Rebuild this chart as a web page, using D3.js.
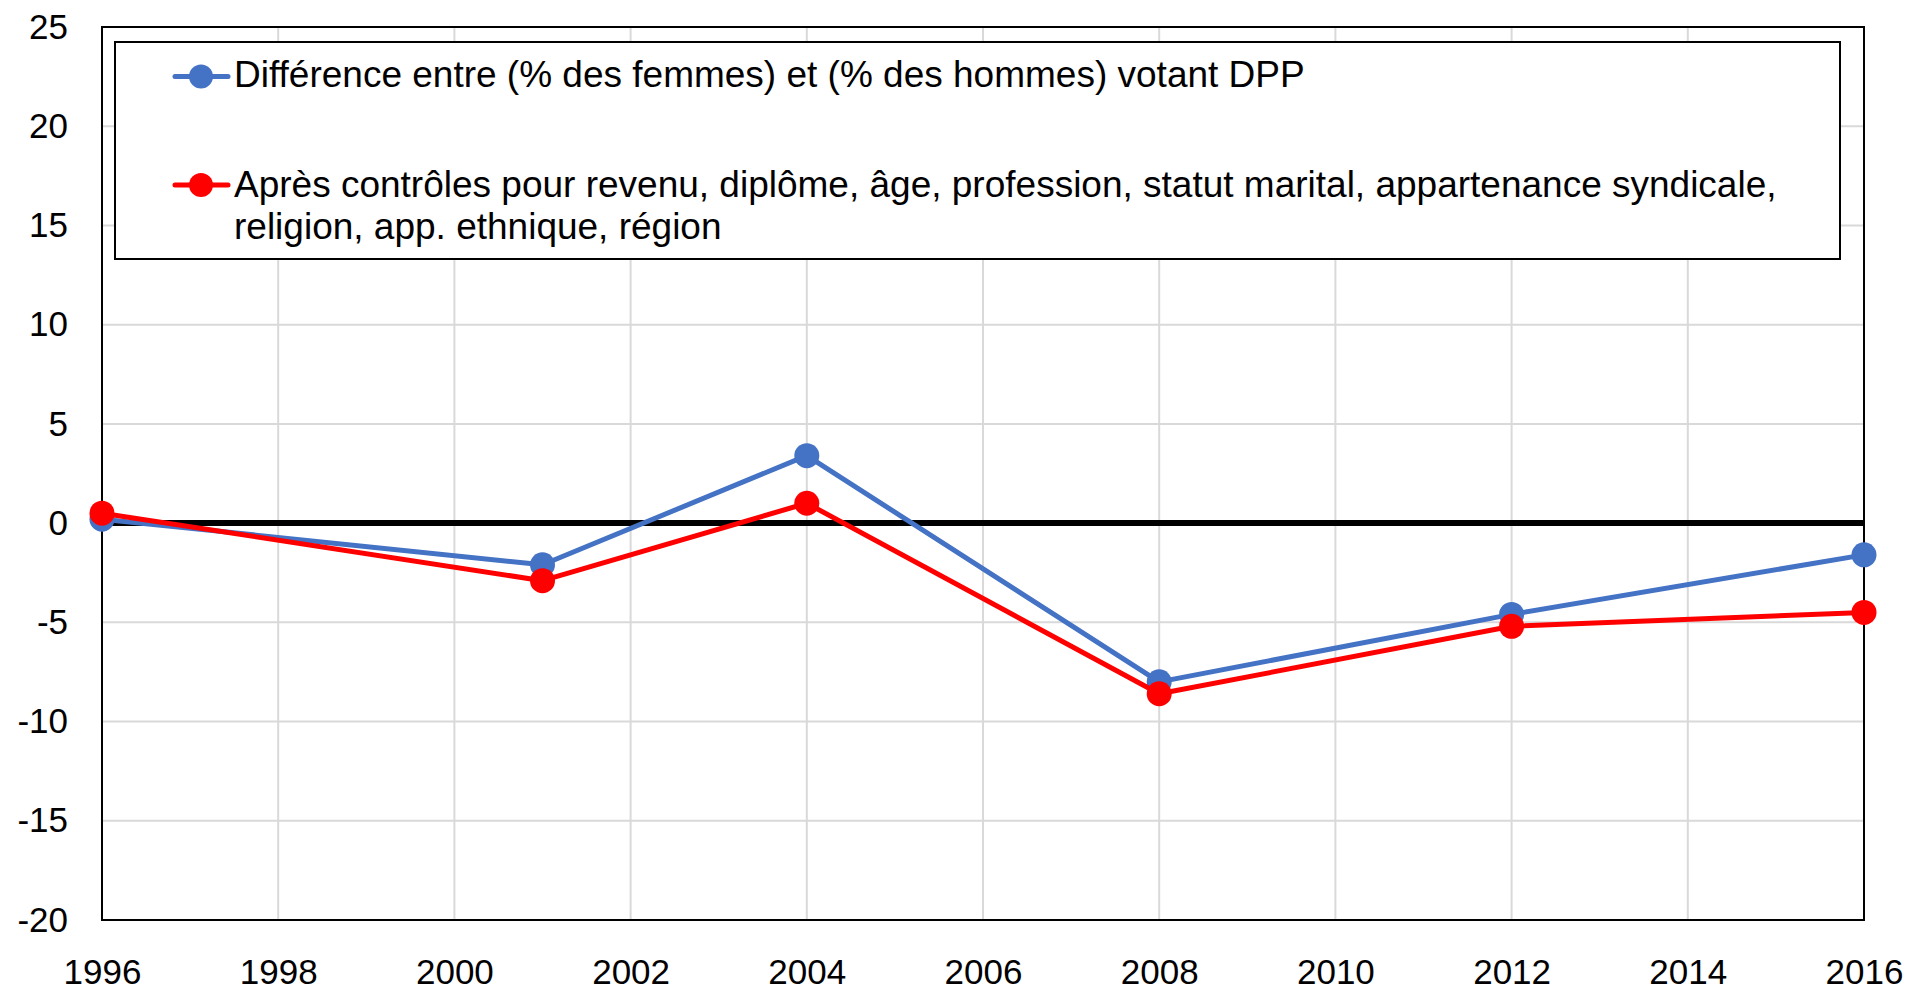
<!DOCTYPE html>
<html>
<head>
<meta charset="utf-8">
<script src="https://cdn.jsdelivr.net/npm/d3@7"></script>
<style>
  html, body { margin: 0; padding: 0; background: #fff; }
  svg { display: block; font-family: "Liberation Sans", Arial, sans-serif; }
</style>
</head>
<body>
<svg id="chart" width="1910" height="992"></svg>
<script>
// Survey years
const years = [1996, 2001, 2004, 2008, 2012, 2016];
// Gender gap in DPP vote (women minus men, percentage points)
const rawGap = [0.2, -2.1, 3.4, -8.0, -4.6, -1.6];
// Gap after controls
const controlledGap = [0.5, -2.9, 1.0, -8.6, -5.2, -4.5];
// Axis ticks
const xTicks = [1996, 1998, 2000, 2002, 2004, 2006, 2008, 2010, 2012, 2014, 2016];
const yTicks = [-20, -15, -10, -5, 0, 5, 10, 15, 20, 25];
// Legend labels (second one wraps over two lines)
const legendBlue = ["Différence entre (% des femmes) et (% des hommes) votant DPP"];
const legendRed = ["Après contrôles pour revenu, diplôme, âge, profession, statut marital, appartenance syndicale,",
                   "religion, app. ethnique, région"];

const svg = d3.select("#chart");
const plotLeft = 102, plotRight = 1864, plotTop = 27, plotBottom = 920;

const x = d3.scaleLinear().domain([1996, 2016]).range([plotLeft, plotRight]);
const y = d3.scaleLinear().domain([-20, 25]).range([plotBottom, plotTop]);

// Gridlines
const grid = svg.append("g");
grid.selectAll("line.h").data(yTicks).join("line").attr("class", "h")
  .attr("x1", plotLeft).attr("x2", plotRight)
  .attr("y1", d => y(d)).attr("y2", d => y(d))
  .attr("stroke", "#d9d9d9").attr("stroke-width", 2);
grid.selectAll("line.v").data(xTicks).join("line").attr("class", "v")
  .attr("x1", d => x(d)).attr("x2", d => x(d))
  .attr("y1", plotTop).attr("y2", plotBottom)
  .attr("stroke", "#d9d9d9").attr("stroke-width", 2);

// Plot frame
svg.append("rect")
  .attr("x", plotLeft).attr("y", plotTop)
  .attr("width", plotRight - plotLeft).attr("height", plotBottom - plotTop)
  .attr("fill", "none").attr("stroke", "#000").attr("stroke-width", 2);

// Axes (plain hyphen for negatives)
const fmt = d => String(d);
const yAxis = svg.append("g")
  .attr("transform", `translate(${plotLeft},0)`)
  .call(d3.axisLeft(y).tickValues(yTicks).tickSize(0).tickPadding(34).tickFormat(fmt));
const xAxis = svg.append("g")
  .attr("transform", `translate(0,${plotBottom})`)
  .call(d3.axisBottom(x).tickValues(xTicks).tickSize(0).tickPadding(39).tickFormat(fmt));
[yAxis, xAxis].forEach(g => {
  g.select(".domain").remove();
  g.selectAll("text")
    .attr("font-family", "'Liberation Sans', Arial, sans-serif")
    .attr("font-size", 35).attr("fill", "#000");
});

// Zero reference line
svg.append("line")
  .attr("x1", x(1996)).attr("x2", x(2016))
  .attr("y1", y(0)).attr("y2", y(0))
  .attr("stroke", "#000").attr("stroke-width", 6);

// Series
const series = [
  { values: rawGap, color: "#4472C4" },
  { values: controlledGap, color: "#FF0000" }
];
const line = d3.line().x(d => x(d[0])).y(d => y(d[1]));
series.forEach(s => {
  const pts = years.map((yr, i) => [yr, s.values[i]]);
  const g = svg.append("g");
  g.append("path").datum(pts)
    .attr("d", line).attr("fill", "none")
    .attr("stroke", s.color).attr("stroke-width", 5)
    .attr("stroke-linejoin", "round");
  g.selectAll("circle").data(pts).join("circle")
    .attr("cx", d => x(d[0])).attr("cy", d => y(d[1]))
    .attr("r", 12.5).attr("fill", s.color);
});

// Legend
const lg = svg.append("g");
lg.append("rect")
  .attr("x", 115).attr("y", 42).attr("width", 1725).attr("height", 217)
  .attr("fill", "#fff").attr("stroke", "#000").attr("stroke-width", 2);

const legendItems = [
  { color: "#4472C4", lines: legendBlue, cy: 76.5, base: 87 },
  { color: "#FF0000", lines: legendRed, cy: 185, base: 197 }
];
legendItems.forEach(it => {
  lg.append("line")
    .attr("x1", 175).attr("x2", 228).attr("y1", it.cy).attr("y2", it.cy)
    .attr("stroke", it.color).attr("stroke-width", 5).attr("stroke-linecap", "round");
  lg.append("circle").attr("cx", 201).attr("cy", it.cy).attr("r", 12).attr("fill", it.color);
  const t = lg.append("text")
    .attr("x", 234).attr("y", it.base)
    .attr("font-size", 37).attr("fill", "#000");
  it.lines.forEach((ln, i) => {
    t.append("tspan").attr("x", 234).attr("dy", i === 0 ? 0 : 41.6).text(ln);
  });
});
</script>
</body>
</html>
